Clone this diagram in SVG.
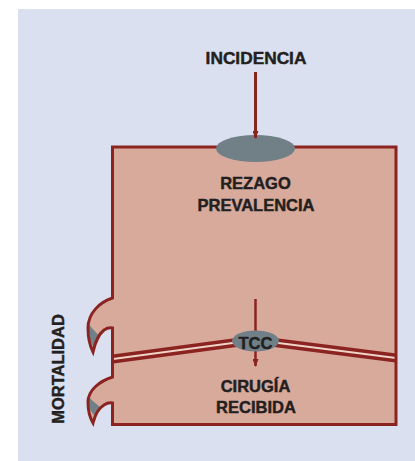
<svg xmlns="http://www.w3.org/2000/svg" width="415" height="461" viewBox="0 0 415 461">
<defs>
<style>
.lbl{font-family:"Liberation Sans",Arial,sans-serif;font-weight:bold;font-size:16.5px;fill:#231f20;stroke:#231f20;stroke-width:0.45px;text-anchor:middle}
.edge{stroke:#8b2420;fill:none}
.node{fill:#717f87}
</style>
<marker id="ah" viewBox="0 0 8 6" refX="7" refY="3" markerWidth="8" markerHeight="6" markerUnits="userSpaceOnUse" orient="auto">
<path d="M0,0 L8,3 L0,6 Z" fill="#8b2420"/>
</marker>
</defs>
<rect x="18" y="9" width="397" height="452" fill="#dbe0f1"/>
<g id="stock">
<path id="boxfill" d="M112.5,147 H396 V424.5 H112.5 V403 C110,402.5 107,403 104,405 C99,408 95,415 93,423 C90,418 88,411 88,402 C88,390 100,381 112.5,377 V328 C110,327.5 107,328 104,330 C99,334 95,343 93,352 C90,346 88,338 88,328 C88,313 100,302 112.5,298 Z" fill="#d8aa9c"/>
<path d="M88.3,324 L100,337 L94,348 C91,343 88.5,336 88.3,328 Z" fill="#717f87"/>
<path d="M88.3,397 L101,408 L94.5,416 C91,412 88.5,407 88.3,402 Z" fill="#717f87"/>
</g>
<g id="connectors">
<polyline points="113,359 255,340 396,358" stroke="#8b2420" stroke-width="9" fill="none"/>
<polyline points="113,359 255,340 396,358" stroke="#efd2c8" stroke-width="1.8" fill="none"/>
<line x1="255.5" y1="299" x2="255.5" y2="366" class="edge" stroke-width="2.5" marker-end="url(#ah)"/>
</g>
<path d="M112.5,147 H396 V424.5 H112.5 V403 C110,402.5 107,403 104,405 C99,408 95,415 93,423 C90,418 88,411 88,402 C88,390 100,381 112.5,377 V328 C110,327.5 107,328 104,330 C99,334 95,343 93,352 C90,346 88,338 88,328 C88,313 100,302 112.5,298 Z" class="edge" stroke-width="3" stroke-linejoin="miter"/>
<g id="flujo-incidencia">
<ellipse cx="255.5" cy="148.5" rx="39.5" ry="13.5" class="node"/>
</g>
<g id="flujo-tcc">
<ellipse cx="255.5" cy="341" rx="23.5" ry="10.5" class="node"/>
<text x="255.5" y="348.5" class="lbl" style="font-size:16.5px">TCC</text>
</g>
<g id="connector-incidencia">
<line x1="255.5" y1="72" x2="255.5" y2="138" class="edge" stroke-width="3" marker-end="url(#ah)"/>
</g>
<g id="labels">
<text x="256" y="64" class="lbl" style="font-size:17.3px">INCIDENCIA</text>
<text x="255.5" y="189" class="lbl">REZAGO</text>
<text x="256" y="210.5" class="lbl">PREVALENCIA</text>
<text x="255.5" y="391.5" class="lbl">CIRUGÍA</text>
<text x="256" y="413" class="lbl">RECIBIDA</text>
<text transform="translate(64,369) rotate(-90)" class="lbl">MORTALIDAD</text>
</g>
</svg>
